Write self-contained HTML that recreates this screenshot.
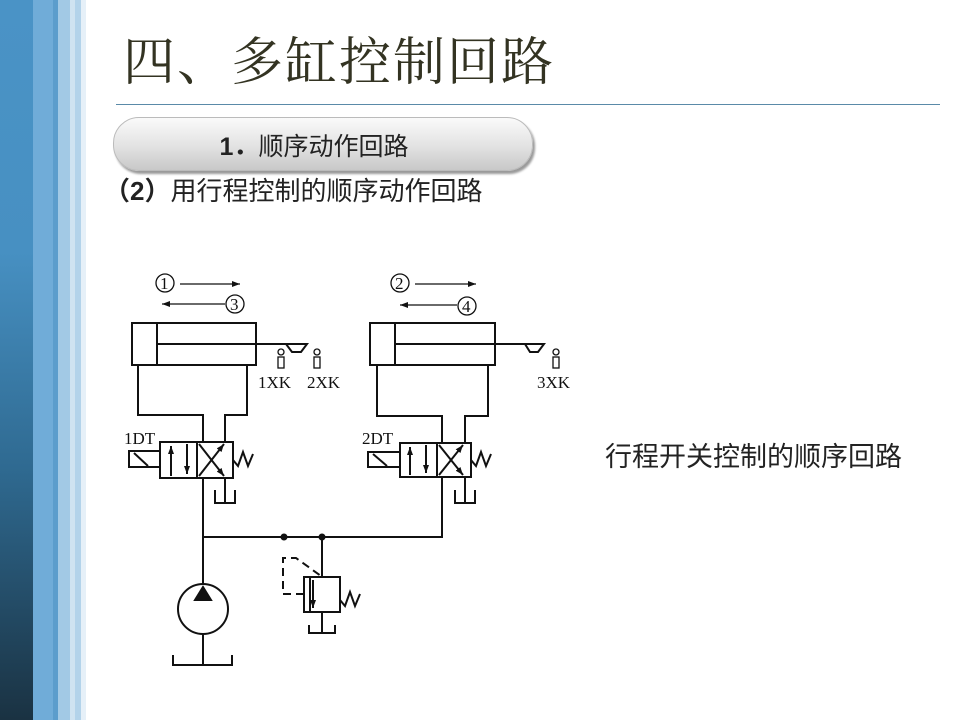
<!DOCTYPE html>
<html><head><meta charset="utf-8"><style>
body{margin:0;width:960px;height:720px;background:#fff;position:relative;overflow:hidden;font-family:"Liberation Sans","Noto Sans CJK SC",sans-serif}
.bar{position:absolute;top:0;height:720px}
</style></head><body>
<div class="bar" style="left:0;width:33px;background:linear-gradient(#4a93c6 0%,#4790c2 35%,#2f6a91 65%,#1a3242 100%)"></div>
<div class="bar" style="left:33px;width:20px;background:#70acd8"></div>
<div class="bar" style="left:53px;width:5px;background:#5c9dcc"></div>
<div class="bar" style="left:58px;width:12px;background:#a2c9e5"></div>
<div class="bar" style="left:70px;width:5px;background:#cfe3f1"></div>
<div class="bar" style="left:75px;width:6px;background:#b3d3ea"></div>
<div class="bar" style="left:81px;width:5px;background:#e6f0f8"></div>
<div style="position:absolute;left:123px;top:31px;font-family:'Liberation Serif','Noto Serif CJK SC',serif;font-size:52px;color:#333322;letter-spacing:2px;line-height:66px;white-space:nowrap">四、多缸控制回路</div>
<div style="position:absolute;left:116px;top:104px;width:824px;height:1px;background:#5a8aa8"></div>
<div style="position:absolute;left:113px;top:117px;width:418px;height:52px;border-radius:26px;background:linear-gradient(#fafafa,#e2e2e2 55%,#c8c8c8);border:1px solid #bbb;box-shadow:2px 3px 2px #9a9a9a"></div>
<div style="position:absolute;left:105px;top:119px;width:418px;height:54px;line-height:56px;text-align:center;font-size:25px;color:#222"><b>1．</b>顺序动作回路</div>
<div style="position:absolute;left:104px;top:174px;font-size:26px;color:#222;white-space:nowrap;line-height:34px"><b>（2）</b>用行程控制的顺序动作回路</div>
<div style="position:absolute;left:605px;top:440px;font-size:27px;color:#222;white-space:nowrap;line-height:34px">行程开关控制的顺序回路</div>
<svg style="position:absolute;left:0;top:0" width="960" height="720" stroke="#111" stroke-width="2" fill="none">
<defs><marker id="a" markerWidth="8" markerHeight="6" refX="8" refY="3" orient="auto" markerUnits="userSpaceOnUse"><path d="M0,0L8,3L0,6z" fill="#111" stroke="none"/></marker></defs>
<g font-family="Liberation Serif,serif" font-size="17" fill="#111" stroke="none">
<text x="160" y="289">1</text><text x="230" y="310">3</text>
<text x="395" y="289">2</text><text x="462" y="312">4</text>
<text x="258" y="388">1XK</text><text x="307" y="388">2XK</text><text x="537" y="388">3XK</text>
<text x="124" y="444">1DT</text><text x="362" y="444">2DT</text>
</g>
<g stroke-width="1.3">
<circle cx="165" cy="283" r="9"/><circle cx="235" cy="304" r="9"/>
<circle cx="400" cy="283" r="9"/><circle cx="467" cy="306" r="9"/>
<line x1="180" y1="284" x2="240" y2="284" marker-end="url(#a)"/>
<line x1="225" y1="304" x2="162" y2="304" marker-end="url(#a)"/>
<line x1="415" y1="284" x2="476" y2="284" marker-end="url(#a)"/>
<line x1="457" y1="305" x2="400" y2="305" marker-end="url(#a)"/>
<circle cx="281" cy="352" r="3"/><rect x="278" y="357" width="6" height="11"/>
<circle cx="317" cy="352" r="3"/><rect x="314" y="357" width="6" height="11"/>
<circle cx="556" cy="352" r="3"/><rect x="553" y="357" width="6" height="11"/>
</g>
<rect x="132" y="323" width="124" height="42"/><line x1="157" y1="323" x2="157" y2="365"/>
<line x1="157" y1="344" x2="288" y2="344"/><path d="M286,344L307,344L301,352L292,352Z"/>
<polyline points="138,365 138,415 203,415 203,442"/><polyline points="247,365 247,415 225,415 225,442"/>
<rect x="160" y="442" width="73" height="36"/><line x1="197" y1="442" x2="197" y2="478"/>
<line x1="171" y1="476" x2="171" y2="446" marker-end="url(#a)"/><line x1="187" y1="444" x2="187" y2="474" marker-end="url(#a)"/>
<line x1="199" y1="476" x2="224" y2="444" marker-end="url(#a)"/><line x1="199" y1="444" x2="224" y2="476" marker-end="url(#a)"/>
<rect x="129" y="451" width="31" height="16"/><line x1="134" y1="453" x2="148" y2="466"/>
<polyline points="233,460 238,466 243,452 248,466 253,454"/>
<line x1="225" y1="478" x2="225" y2="503"/><polyline points="215,490 215,503 235,503 235,490"/>
<rect x="370" y="323" width="125" height="42"/><line x1="395" y1="323" x2="395" y2="365"/>
<line x1="395" y1="344" x2="527" y2="344"/><path d="M525,344L544,344L538,352L530,352Z"/>
<polyline points="377,365 377,416 442,416 442,443"/><polyline points="488,365 488,416 465,416 465,443"/>
<rect x="400" y="443" width="71" height="34"/><line x1="437" y1="443" x2="437" y2="477"/>
<line x1="410" y1="475" x2="410" y2="447" marker-end="url(#a)"/><line x1="426" y1="445" x2="426" y2="473" marker-end="url(#a)"/>
<line x1="439" y1="475" x2="463" y2="445" marker-end="url(#a)"/><line x1="439" y1="445" x2="463" y2="475" marker-end="url(#a)"/>
<rect x="368" y="452" width="32" height="15"/><line x1="373" y1="454" x2="387" y2="466"/>
<polyline points="471,460 476,466 481,452 486,466 491,454"/>
<line x1="465" y1="477" x2="465" y2="503"/><polyline points="455,490 455,503 475,503 475,490"/>
<polyline points="203,478 203,584"/><polyline points="203,537 442,537 442,477"/>
<circle cx="284" cy="537" r="2.5" fill="#111"/><circle cx="322" cy="537" r="2.5" fill="#111"/>
<line x1="322" y1="537" x2="322" y2="577"/>
<rect x="304" y="577" width="36" height="35"/><line x1="310" y1="577" x2="310" y2="612"/>
<line x1="313" y1="580" x2="313" y2="608" marker-end="url(#a)"/>
<polyline points="340,600 345,606 350,592 355,606 360,594"/>
<polyline points="304,594 283,594 283,558 296,558 321,576" stroke-dasharray="8,5"/>
<line x1="322" y1="612" x2="322" y2="633"/><polyline points="309,625 309,633 335,633 335,625"/>
<circle cx="203" cy="609" r="25"/><path d="M203,587L211,600L195,600Z" fill="#111"/>
<line x1="203" y1="634" x2="203" y2="665"/><polyline points="173,655 173,665 232,665 232,655"/>
</svg>
</body></html>
